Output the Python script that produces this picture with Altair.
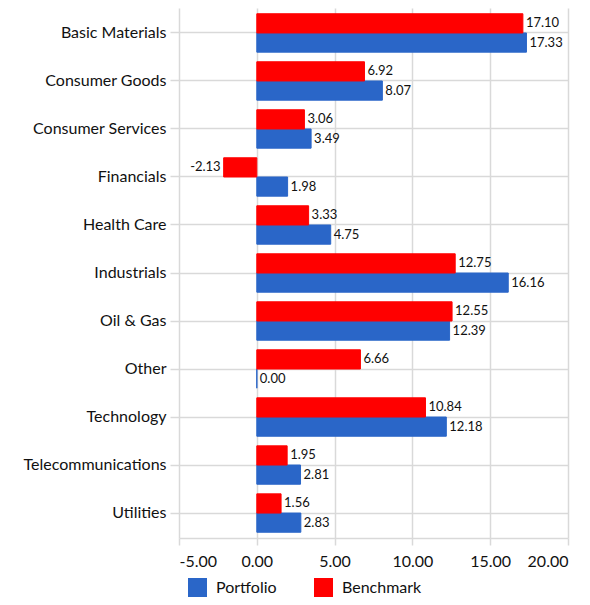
import altair as alt
import pandas as pd

categories = ["Basic Materials", "Consumer Goods", "Consumer Services", "Financials",
              "Health Care", "Industrials", "Oil & Gas", "Other", "Technology",
              "Telecommunications", "Utilities"]
portfolio = [17.33, 8.07, 3.49, 1.98, 4.75, 16.16, 12.39, 0.00, 12.18, 2.81, 2.83]
benchmark = [17.10, 6.92, 3.06, -2.13, 3.33, 12.75, 12.55, 6.66, 10.84, 1.95, 1.56]
series = ["Portfolio", "Benchmark"]
colors = ["#2a66c8", "#ff0000"]
x_ticks = [-5, 0, 5, 10, 15, 20]

rows = []
for c, p, b in zip(categories, portfolio, benchmark):
    rows.append({"category": c, "series": "Portfolio", "value": p})
    rows.append({"category": c, "series": "Benchmark", "value": b})
df = pd.DataFrame(rows)

FONT = "Lato"
GRID = "#d9d9d9"
FMT = "datum.value < 0 ? '-' + format(-datum.value, '.2f') : format(datum.value, '.2f')"

y_enc = alt.Y("category:N", sort=categories,
              scale=alt.Scale(paddingInner=0.2, paddingOuter=0.12),
              axis=alt.Axis(title=None, grid=True, gridColor=GRID, gridWidth=1.5,
                            tickColor=GRID, tickWidth=1.5, tickSize=9,
                            domain=False, labelFontSize=16, labelColor="#111",
                            labelFont=FONT, labelPadding=4))
yoff = alt.YOffset("series:N", sort=["Benchmark", "Portfolio"])
x_enc = alt.X("value:Q", scale=alt.Scale(domain=[-5, 20], nice=False),
              axis=alt.Axis(title=None, values=x_ticks, labelExpr=FMT, grid=True,
                            gridColor=GRID, gridWidth=1.5, tickColor=GRID, tickWidth=1.5,
                            tickSize=7, domainColor=GRID, domainWidth=1.5,
                            labelFontSize=16, labelColor="#111", labelFont=FONT,
                            labelPadding=8))
color_scale = alt.Scale(domain=series, range=colors)

base = alt.Chart(df).transform_calculate(label=FMT)
bars = base.mark_bar(strokeWidth=1).encode(
    y=y_enc, yOffset=yoff, x=x_enc,
    stroke=alt.Stroke("series:N", scale=color_scale, legend=None),
    color=alt.Color("series:N", scale=color_scale,
                    legend=alt.Legend(title=None, orient="none", legendX=9, legendY=570,
                                      direction="horizontal", symbolType="square",
                                      symbolSize=361, symbolStrokeWidth=0,
                                      labelFontSize=16, labelFont=FONT, labelColor="#111",
                                      labelOffset=9, columnPadding=37, padding=0)))
pos_text = base.transform_filter("datum.value >= 0").mark_text(
    align="left", baseline="middle", dx=3, fontSize=13, font=FONT, color="#111"
).encode(y="category:N", yOffset=yoff, x="value:Q", text="label:N")
neg_text = base.transform_filter("datum.value < 0").mark_text(
    align="right", baseline="middle", dx=-3, fontSize=13, font=FONT, color="#111"
).encode(y="category:N", yOffset=yoff, x="value:Q", text="label:N")

chart = alt.layer(bars, pos_text, neg_text).properties(
    width=389, height=530,
    autosize=alt.AutoSizeParams(type="none"),
    padding={"left": 171, "top": 0, "right": 14, "bottom": 59},
).configure_view(stroke=None)

chart.save("out.html", embed_options={"renderer": "svg", "actions": False})
